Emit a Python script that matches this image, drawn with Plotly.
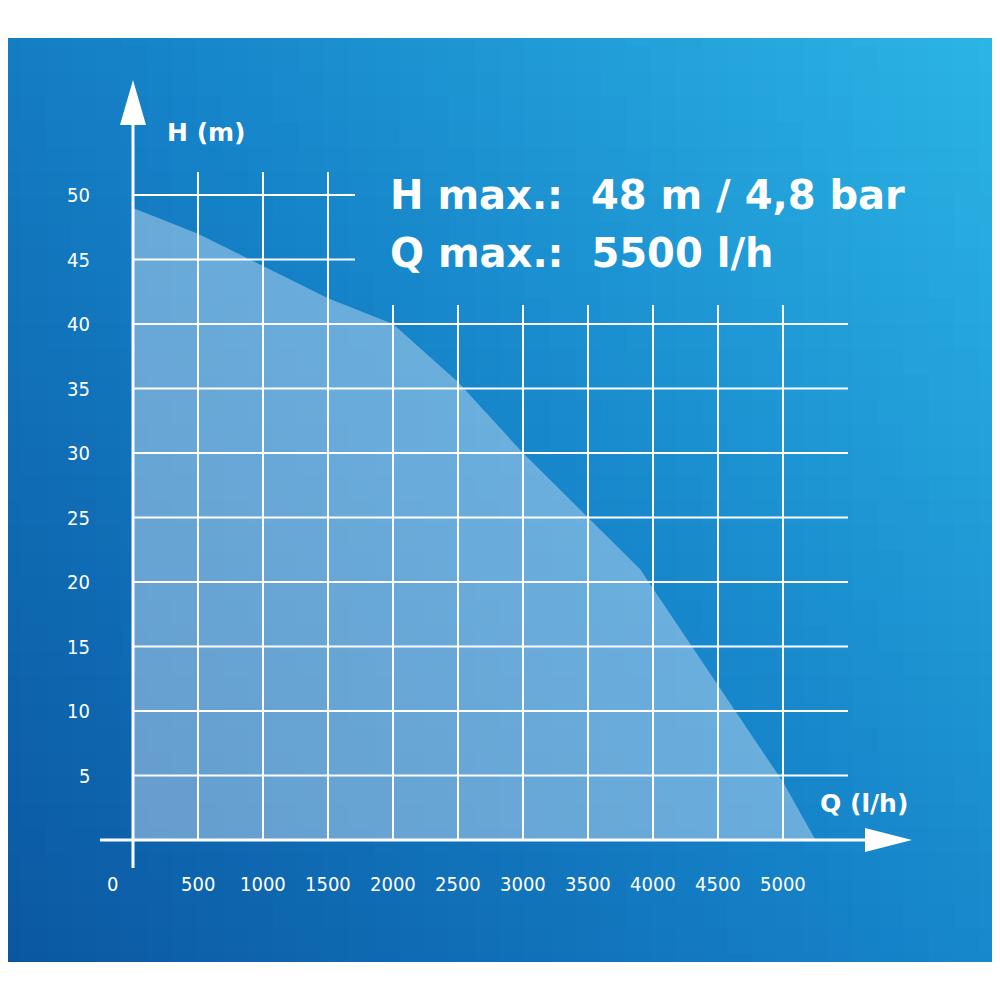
import numpy as np
import plotly.graph_objects as go

# pump curve
flow = [0, 500, 1000, 1500, 2000, 2500, 3000, 3500, 3900, 4000, 4500, 5000, 5250]
head = [49, 47, 44.5, 42, 40, 35.5, 30, 25, 21, 19.5, 12, 4.5, 0]

x_ticks = [0, 500, 1000, 1500, 2000, 2500, 3000, 3500, 4000, 4500, 5000]
y_ticks = [5, 10, 15, 20, 25, 30, 35, 40, 45, 50]

# pixel mapping: x 0 -> 133px, 0.13 px/unit ; y 0 -> 840px, 12.9 px/unit
PX = 1 / 0.13
PY = 1 / 12.9
def X(px): return (px - 133) * PX
def Y(py): return (840 - py) * PY

# page body has an 8px margin, so the figure spans 8..992
xr = [X(8), X(992)]
yr = [Y(992), Y(8)]

# background gradient
gx = np.linspace(xr[0], xr[1], 40)
gy = np.linspace(yr[0], yr[1], 40)
GX, GY = np.meshgrid((gx - xr[0]) / (xr[1] - xr[0]), (gy - yr[0]) / (yr[1] - yr[0]))
z = 0.65 * GX + 0.55 * GY

fig = go.Figure()
fig.add_trace(go.Heatmap(x=gx, y=gy, z=z, showscale=False, hoverinfo="skip",
                         colorscale=[[0, "#0a56a0"], [0.5, "#1582c8"], [1, "#2cb6e6"]]))
fig.add_trace(go.Scatter(x=flow, y=head, mode="lines", line=dict(width=0),
                         fill="tozeroy", fillcolor="rgba(190,215,240,0.5)",
                         hoverinfo="skip"))

shapes = []
white = dict(color="white", width=2)
for v in x_ticks[1:]:
    top = Y(172) if v <= 1500 else Y(305)
    shapes.append(dict(type="line", x0=v, x1=v, y0=0, y1=top, line=white))
for v in y_ticks:
    right = X(355) if v >= 45 else X(848)
    shapes.append(dict(type="line", x0=0, x1=right, y0=v, y1=v, line=white))
# axes
shapes.append(dict(type="line", x0=0, x1=0, y0=Y(868), y1=Y(120), line=dict(color="white", width=3)))
shapes.append(dict(type="line", x0=X(100), x1=X(880), y0=0, y1=0, line=dict(color="white", width=3)))
shapes.append(dict(type="path", fillcolor="white", line=dict(width=0),
                   path=f"M {X(120)},{Y(125)} L {X(146)},{Y(125)} L {X(133)},{Y(80)} Z"))
shapes.append(dict(type="path", fillcolor="white", line=dict(width=0),
                   path=f"M {X(865)},{Y(828)} L {X(865)},{Y(852)} L {X(912)},{Y(840)} Z"))
# white bands
shapes.append(dict(type="rect", x0=xr[0], x1=xr[1], y0=Y(38), y1=yr[1], fillcolor="white", line=dict(width=0)))
shapes.append(dict(type="rect", x0=xr[0], x1=xr[1], y0=yr[0], y1=Y(962), fillcolor="white", line=dict(width=0)))

tick_font = dict(family="DejaVu Sans Condensed, Liberation Sans Narrow, Liberation Sans", size=20, color="white")
ann = []
for v in x_ticks:
    ann.append(dict(x=v if v else X(112), y=Y(884), text=str(v), showarrow=False, font=tick_font))
for v in y_ticks:
    ann.append(dict(x=X(92), y=v, text=str(v), showarrow=False, xanchor="right", font=tick_font))
lab_font = dict(family="DejaVu Sans", size=25, color="white")
ann.append(dict(x=X(165), y=Y(132), text="<b>H (m)</b>", showarrow=False, xanchor="left", font=lab_font))
ann.append(dict(x=X(818), y=Y(803), text="<b>Q (l/h)</b>", showarrow=False, xanchor="left", font=lab_font))
big = dict(family="DejaVu Sans", size=40, color="white")
ann.append(dict(x=X(388), y=Y(195), text="<b>H max.:  48 m / 4,8 bar</b>", showarrow=False, xanchor="left", font=big))
ann.append(dict(x=X(388), y=Y(253), text="<b>Q max.:  5500 l/h</b>", showarrow=False, xanchor="left", font=big))

fig.update_layout(width=984, height=984, margin=dict(l=0, r=0, t=0, b=0, pad=0),
                  shapes=shapes, annotations=ann, showlegend=False,
                  plot_bgcolor="white", paper_bgcolor="white",
                  xaxis=dict(range=xr, visible=False, fixedrange=True),
                  yaxis=dict(range=yr, visible=False, fixedrange=True))
fig.write_html("out.html")
